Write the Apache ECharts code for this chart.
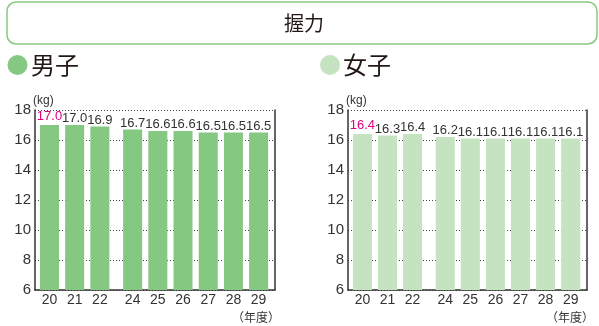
<!DOCTYPE html>
<html>
<head>
<meta charset="utf-8">
<script src="https://cdn.jsdelivr.net/npm/echarts@6/dist/echarts.min.js"></script>
<style>
  html, body { margin: 0; padding: 0; background: #fff; }
  #chart { width: 599px; height: 326px; }
</style>
</head>
<body>
<div id="chart"></div>
<script>
// data
const years = ['20', '21', '22', '24', '25', '26', '27', '28', '29'];
const boys = [17.0, 17.0, 16.9, 16.7, 16.6, 16.6, 16.5, 16.5, 16.5];
const girls = [16.4, 16.3, 16.4, 16.2, 16.1, 16.1, 16.1, 16.1, 16.1];
const yTicks = [6, 8, 10, 12, 14, 16, 18];

const FONT = '"Liberation Sans", Arial, "Noto Sans CJK JP", sans-serif';
const CJK = '"Noto Sans CJK JP", sans-serif';
const TEXT = '#231815';
const PINK = '#e4007f';
const BOY_COLOR = '#84c882';
const GIRL_COLOR = '#c5e3c1';

// fiscal year 23 is missing: leave a narrow gap after it
const GAP = 0.3;
const positions = years.map((y, i) => i + (Number(y) > 23 ? GAP : 0));

function labelFor(v) {
  let best = 0;
  positions.forEach((p, i) => {
    if (Math.abs(p - v) < Math.abs(positions[best] - v)) best = i;
  });
  return years[best];
}

function makeXAxis(gridIndex) {
  return {
    type: 'value',
    gridIndex,
    min: -0.575,
    max: 8.95,
    axisLine: { show: true, onZero: false, lineStyle: { color: '#333', width: 1.5 } },
    axisTick: { show: false },
    splitLine: { show: false },
    axisLabel: {
      customValues: positions,
      formatter: (v) => labelFor(v),
      color: '#333',
      fontSize: 14,
      fontFamily: FONT,
      margin: 3,
    },
  };
}

function makeYAxes(gridIndex) {
  return [
    {
      type: 'value',
      gridIndex,
      min: yTicks[0],
      max: yTicks[yTicks.length - 1],
      interval: 2,
      axisLine: { show: true, onZero: false, lineStyle: { color: '#333', width: 1.5 } },
      axisTick: { show: false },
      axisLabel: { color: '#333', fontSize: 15, fontFamily: FONT, margin: 4 },
      splitLine: { show: true, lineStyle: { color: '#444', type: [1, 2], width: 1 } },
    },
    {
      type: 'value',
      gridIndex,
      position: 'right',
      min: yTicks[0],
      max: yTicks[yTicks.length - 1],
      interval: 2,
      axisLine: { show: true, onZero: false, lineStyle: { color: '#333', width: 1.5 } },
      axisTick: { show: false },
      axisLabel: { show: false },
      splitLine: { show: false },
    },
  ];
}

function makeSeries(values, color, axisIndex) {
  return {
    type: 'bar',
    xAxisIndex: axisIndex,
    yAxisIndex: axisIndex * 2,
    barWidth: 19,
    itemStyle: { color },
    label: {
      show: true,
      position: 'top',
      distance: 0,
      color: '#333',
      fontSize: 13,
      fontFamily: FONT,
      // the first (baseline) year is printed in pink
      formatter: (p) => {
        const s = p.value[1].toFixed(1);
        return p.dataIndex === 0 ? '{p|' + s + '}' : s;
      },
      rich: {
        p: { color: PINK, fontSize: 13, fontFamily: FONT, padding: [0, 0, 2, 0] },
      },
    },
    data: values.map((v, i) => [positions[i], v]),
  };
}

const chart = echarts.init(document.getElementById('chart'));
const yA = makeYAxes(0);
const yB = makeYAxes(1);

function text(x, y, str, font, fill, align) {
  return {
    type: 'text',
    x, y,
    style: { text: str, fill, font, textAlign: align, textVerticalAlign: 'middle' },
  };
}

chart.setOption({
  animation: false,
  backgroundColor: '#fff',
  grid: [
    { left: 35, top: 110, width: 240, height: 180 },
    { left: 348, top: 110, width: 239, height: 180 },
  ],
  xAxis: [makeXAxis(0), makeXAxis(1)],
  yAxis: [yA[0], yA[1], yB[0], yB[1]],
  series: [makeSeries(boys, BOY_COLOR, 0), makeSeries(girls, GIRL_COLOR, 1)],
  graphic: [
    {
      type: 'rect',
      shape: { x: 7, y: 2, width: 590, height: 42, r: 9 },
      style: { fill: '#fff', stroke: '#86c97e', lineWidth: 1.5 },
    },
    text(304, 23, '握力', '20px ' + CJK, TEXT, 'center'),
    { type: 'circle', shape: { cx: 17.5, cy: 65, r: 10 }, style: { fill: BOY_COLOR } },
    text(31, 65, '男子', '24px ' + CJK, TEXT, 'left'),
    { type: 'circle', shape: { cx: 330, cy: 65, r: 10 }, style: { fill: GIRL_COLOR } },
    text(343, 65, '女子', '24px ' + CJK, TEXT, 'left'),
    text(33, 101, '(kg)', '12px ' + FONT, '#333', 'left'),
    text(346, 101, '(kg)', '12px ' + FONT, '#333', 'left'),
    text(280, 317, '（年度）', '12px ' + CJK, '#333', 'right'),
    text(594, 317, '（年度）', '12px ' + CJK, '#333', 'right'),
  ],
});
</script>
</body>
</html>
